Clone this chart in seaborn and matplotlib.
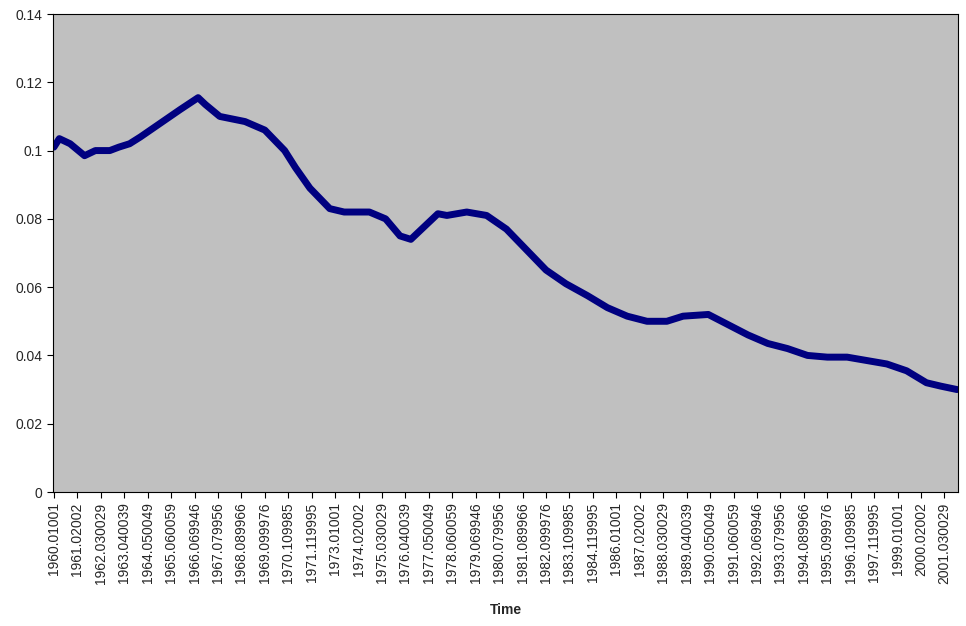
import numpy as np
import matplotlib
matplotlib.use("Agg")
import matplotlib.pyplot as plt
import seaborn as sns

# month index since 1960.01 and value
months = [0, 3, 9, 17, 23, 31, 36, 42, 48, 59, 70, 80, 84, 92, 106, 117, 128, 134,
          142, 153, 161, 169, 175, 184, 192, 198, 206, 213, 218, 229, 240, 251, 262,
          273, 284, 296, 307, 318, 329, 340, 349, 363, 374, 385, 396, 407, 418, 429,
          440, 451, 462, 473, 484, 492, 501]
values = [0.101, 0.1035, 0.102, 0.0985, 0.100, 0.100, 0.101, 0.102, 0.104, 0.108,
          0.112, 0.1155, 0.1135, 0.110, 0.1085, 0.106, 0.100, 0.095, 0.089, 0.083,
          0.082, 0.082, 0.082, 0.080, 0.075, 0.074, 0.078, 0.0815, 0.081, 0.082,
          0.081, 0.077, 0.071, 0.065, 0.061, 0.0575, 0.054, 0.0515, 0.050, 0.050,
          0.0515, 0.052, 0.049, 0.046, 0.0435, 0.042, 0.040, 0.0395, 0.0395, 0.0385,
          0.0375, 0.0355, 0.032, 0.031, 0.030]

tick_labels = ["1960.01001", "1961.02002", "1962.030029", "1963.040039", "1964.050049",
               "1965.060059", "1966.069946", "1967.079956", "1968.089966", "1969.099976",
               "1970.109985", "1971.119995", "1973.01001", "1974.02002", "1975.030029",
               "1976.040039", "1977.050049", "1978.060059", "1979.069946", "1980.079956",
               "1981.089966", "1982.099976", "1983.109985", "1984.119995", "1986.01001",
               "1987.02002", "1988.030029", "1989.040039", "1990.050049", "1991.060059",
               "1992.069946", "1993.079956", "1994.089966", "1995.099976", "1996.109985",
               "1997.119995", "1999.01001", "2000.02002", "2001.030029"]
tick_pos = [13 * i for i in range(len(tick_labels))]

sns.set_style("white")
plt.rcParams['font.family'] = ['Liberation Sans', 'DejaVu Sans']

fig = plt.figure(figsize=(9.66, 6.26), dpi=100)
ax = fig.add_axes([53 / 966, 1 - 492 / 626, 905 / 966, 478 / 626])
ax.set_facecolor("#C0C0C0")
sns.lineplot(x=months, y=values, ax=ax, color="#000080", linewidth=5,
             solid_joinstyle="round", solid_capstyle="round")

ax.set_xlim(-0.5, 501.5)
ax.set_ylim(0, 0.14)
ax.set_yticks(np.arange(0, 0.141, 0.02))
ax.set_yticklabels(["0", "0.02", "0.04", "0.06", "0.08", "0.1", "0.12", "0.14"], fontsize=10)
ax.set_xticks(tick_pos)
ax.set_xticklabels(tick_labels, rotation=90, fontsize=10)
ax.tick_params(direction="out", length=4, color="black", bottom=True, left=True)
for s in ax.spines.values():
    s.set_color("black")
    s.set_linewidth(0.8)
ax.set_xlabel("Time", fontsize=10, fontweight="bold", labelpad=14)
ax.set_ylabel("")

fig.savefig("out.png", dpi=100)
